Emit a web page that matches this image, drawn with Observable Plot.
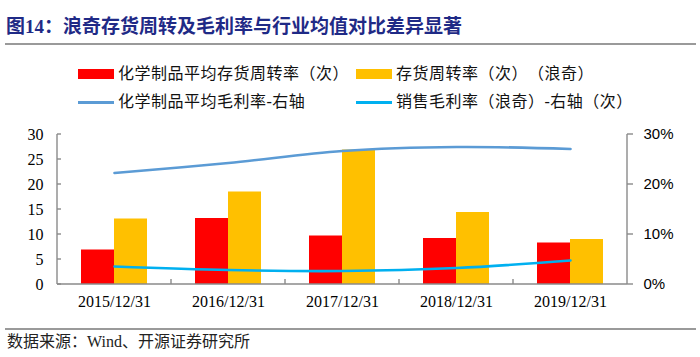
<!DOCTYPE html>
<html><head><meta charset="utf-8">
<script src="https://cdn.jsdelivr.net/npm/d3@7"></script>
<script src="https://cdn.jsdelivr.net/npm/@observablehq/plot@0.6"></script>
<style>
body{margin:0;background:#fff;}
#wrap{position:relative;width:700px;height:357px;overflow:hidden;font-family:"Liberation Serif","Noto Sans CJK SC",serif;color:#111;text-spacing-trim:space-all;}
#title{position:absolute;left:6px;top:15px;font-size:19px;font-weight:bold;color:#1F2A86;line-height:24px;white-space:nowrap;}
.rule{position:absolute;left:5px;width:691px;height:2px;background:#9a9a9a;}
.leg{position:absolute;display:flex;align-items:center;font-size:16px;letter-spacing:0.5px;white-space:nowrap;line-height:20px;}
.sw{width:36px;margin-right:4px;}
#chart{position:absolute;left:0;top:115px;}
#src{position:absolute;left:7px;top:332px;font-size:16px;color:#222;line-height:20px;white-space:nowrap;}
</style></head>
<body><div id="wrap">
<div id="title">图14：浪奇存货周转及毛利率与行业均值对比差异显著</div>
<div class="rule" style="top:43px"></div>
<div id="legend"></div>
<div id="chart"></div>
<div class="rule" style="top:328px"></div>
<div id="src">数据来源：Wind、开源证券研究所</div>
</div>
<script>
const years = ["2015/12/31","2016/12/31","2017/12/31","2018/12/31","2019/12/31"];
const industryTurnover = [6.9, 13.2, 9.7, 9.2, 8.3];
const langqiTurnover = [13.1, 18.5, 26.9, 14.4, 9.0];
const industryMargin = [22.3, 24.3, 26.7, 27.5, 27.1]; // percent, right axis
const langqiMargin = [3.6, 2.9, 2.7, 3.3, 4.8];        // percent, right axis
const seriesNames = ["化学制品平均存货周转率（次）","存货周转率（次）（浪奇）","化学制品平均毛利率-右轴","销售毛利率（浪奇）-右轴（次）"];
const seriesColors = ["#FF0000","#FFC000","#5B9BD5","#00B0F0"];
const seriesKinds = ["bar","bar","line","line"];
const leftTicks = [0,5,10,15,20,25,30];
const rightTicks = [0,10,20,30];

const rows = years.map((y,i)=>({year:y, ind:industryTurnover[i], lq:langqiTurnover[i], indM:industryMargin[i], lqM:langqiMargin[i]}));

// legend
const legPos = [[78,64],[356,64],[78,92],[356,92]];
const leg = d3.select("#legend");
seriesNames.forEach((n,i)=>{
  const it = leg.append("div").attr("class","leg").style("left",legPos[i][0]+"px").style("top",legPos[i][1]+"px");
  it.append("div").attr("class","sw").style("height", seriesKinds[i]==="bar"?"10px":"3px").style("background",seriesColors[i]);
  it.append("span").text(n);
});

const chart = Plot.plot({
  width:700, height:200,
  marginLeft:57, marginRight:73, marginTop:19, marginBottom:31,
  style:{fontFamily:"Liberation Serif", fontSize:"16px", color:"#000", background:"transparent"},
  x:{type:"band", domain:years, padding:0, label:null},
  y:{domain:[0,30], label:null},
  marks:[
    Plot.barY(rows,{x:"year", y:"ind", fill:seriesColors[0], insetLeft:24, insetRight:57}),
    Plot.barY(rows,{x:"year", y:"lq", fill:seriesColors[1], insetLeft:57, insetRight:24}),
    Plot.line(rows,{x:"year", y:"indM", stroke:seriesColors[2], strokeWidth:2.6, curve:"catmull-rom"}),
    Plot.line(rows,{x:"year", y:"lqM", stroke:seriesColors[3], strokeWidth:2.6, curve:"catmull-rom"}),
    Plot.axisY({anchor:"left", ticks:leftTicks, tickSize:0, tickPadding:14, fontSize:16, fontFamily:"Liberation Serif", label:null}),
    Plot.axisY({anchor:"right", ticks:rightTicks, tickSize:0, tickPadding:16, tickFormat:d=>d+"%", fontSize:15, fontFamily:"Liberation Sans", label:null}),
    Plot.axisX({tickSize:0, tickPadding:11, fontSize:16, fontFamily:"Liberation Serif", label:null})
  ]
});
document.getElementById("chart").appendChild(chart);

// axis lines and ticks derived from the chart's scales
const xs = chart.scale("x"), ys = chart.scale("y");
const [xa, xb] = xs.range;
const yb = ys.apply(0), yt = ys.apply(30);
const g = d3.select(chart).append("g").attr("stroke","#8a8a8a").attr("stroke-width",1.4);
const L = (x1,y1,x2,y2)=>g.append("line").attr("x1",x1).attr("y1",y1).attr("x2",x2).attr("y2",y2);
L(xa,yb,xb,yb);
L(xa,yb,xa,yt);
L(xb,yb,xb,yt);
leftTicks.forEach(t=>L(xa,ys.apply(t),xa+4,ys.apply(t)));
rightTicks.forEach(t=>L(xb,ys.apply(t),xb+6,ys.apply(t)));
const step = (xb-xa)/years.length;
years.forEach((y,i)=>{ if(i>0) L(xa+i*step,yb,xa+i*step,yb-5); });
</script>
</body></html>
